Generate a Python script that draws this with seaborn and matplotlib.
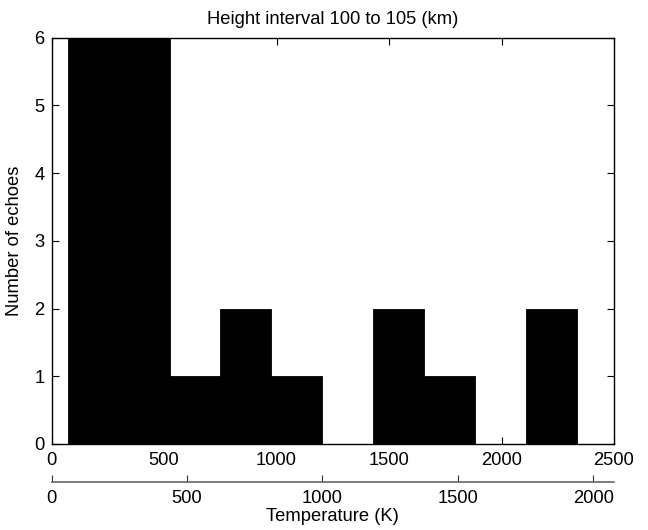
import numpy as np
import pandas as pd
import matplotlib
matplotlib.use("Agg")
import matplotlib.pyplot as plt
import seaborn as sns

# Histogram data (bin centres in K on the main axis, counts per bin)
bin_centers = [185, 412, 638, 864, 1091, 1317, 1544, 1770, 1996, 2223]
counts = [8, 7, 1, 2, 1, 0, 2, 1, 0, 2]
top_ticks = [0, 500, 1000, 1500, 2000, 2500]
bottom_ticks = [0, 500, 1000, 1500, 2000]
y_ticks = [0, 1, 2, 3, 4, 5, 6]

FS = 13.2
sns.set_theme(style="white")
plt.rcParams['font.family'] = ['Liberation Sans', 'DejaVu Sans']
plt.rcParams['font.size'] = FS

fig = plt.figure(figsize=(6.48, 5.30), dpi=100)
W, H = 648, 530
ax = fig.add_axes([51.5 / W, (H - 444) / H, 562.5 / W, 406.3 / H])

df = pd.DataFrame({'T': bin_centers, 'n': counts})
w = float(bin_centers[1] - bin_centers[0])
lo = float(bin_centers[0]) - w / 2
hi = float(bin_centers[-1]) + w / 2
sns.histplot(data=df, x='T', weights='n', bins=len(bin_centers),
             binrange=(lo, hi), ax=ax, color='black',
             alpha=1, edgecolor='black', linewidth=0.6)

ax.set_xlim(0, 2500)
ax.set_ylim(0, 6)
ax.set_xticks(top_ticks)
ax.set_yticks(y_ticks)
ax.set_xticklabels([str(t) for t in top_ticks])
ax.set_yticklabels([str(t) for t in y_ticks])
for s in ax.spines.values():
    s.set_color('black')
    s.set_linewidth(1.0)
    s.set_visible(True)
ax.tick_params(axis='x', direction='in', top=True, bottom=True, length=5,
               width=0.8, color='black', pad=6, labelsize=FS, labelcolor='black')
ax.tick_params(axis='y', direction='in', left=True, right=True, length=5,
               width=0.8, color='black', pad=5, labelsize=FS, labelcolor='black')
ax.set_xlabel('')
ax.set_ylabel('Number of echoes', fontsize=FS, labelpad=8, color='black')
ax.set_title('Height interval 100 to 105 (km)', fontsize=FS, pad=10, color='black')

# Secondary temperature axis below
ax2 = fig.add_axes([51.5 / W, (H - 481.7) / H, 562.5 / W, 0.0005])
ax2.set_xlim(0, 2076)
ax2.set_xticks(bottom_ticks)
ax2.set_xticklabels([str(t) for t in bottom_ticks])
ax2.set_yticks([])
for k in ['top', 'left', 'right']:
    ax2.spines[k].set_visible(False)
ax2.spines['bottom'].set_color('#666666')
ax2.spines['bottom'].set_linewidth(1.2)
ax2.patch.set_alpha(0)
ax2.tick_params(axis='x', direction='in', bottom=True, length=5, width=0.8,
                color='#333333', pad=6, labelsize=FS, labelcolor='black')
ax2.set_xlabel('Temperature (K)', fontsize=FS, labelpad=1, color='black')

fig.savefig('out.png', dpi=100)
